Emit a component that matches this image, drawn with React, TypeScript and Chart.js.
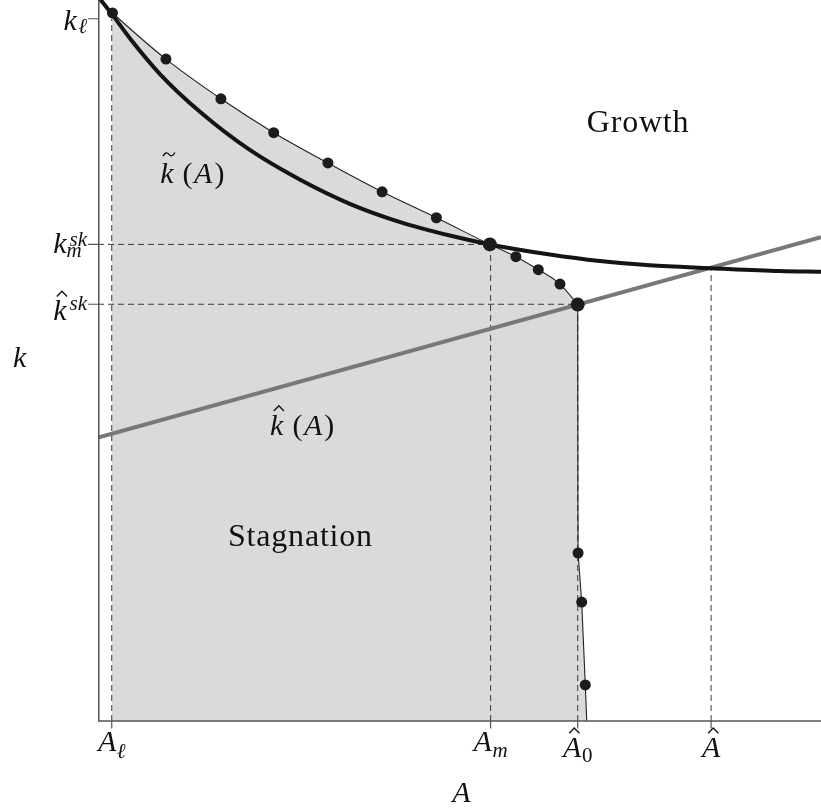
import React, { useEffect, useRef } from 'react';
import { Chart, registerables } from 'chart.js';

Chart.register(...registerables);

// ---- data (A on the horizontal axis, k on the vertical axis) ----
// tick positions: A_ℓ, A_m, Â_0, Â
const A_TICKS = [0.19, 5.43, 6.635, 8.48];
// tick positions: k_ℓ, k_m^sk, k̂^sk
const K_TICKS = [9.74, 6.61, 5.78];

// k̃(A) curve (thick black)
const kTildeA = [0.03, 0.21, 0.44, 0.86, 1.41, 2.1, 2.79, 3.49, 4.18, 4.88, 5.42, 6.25, 6.94, 7.63, 8.48, 9.43, 10.0];
const kTildeK = [10.01, 9.78, 9.47, 8.97, 8.45, 7.92, 7.51, 7.17, 6.92, 6.73, 6.61, 6.47, 6.38, 6.32, 6.28, 6.24, 6.23];

// k̂(A) line (thick gray)
const kHatA = [0, 10];
const kHatK = [3.93, 6.71];

// frontier of the stagnation region: marked points
const dotA = [0.2, 0.94, 1.7, 2.43, 3.18, 3.93, 4.68, 5.42, 5.78, 6.09, 6.39, 6.635, 6.64, 6.69, 6.74];
const dotK = [9.82, 9.18, 8.63, 8.16, 7.74, 7.34, 6.98, 6.61, 6.44, 6.26, 6.06, 5.775, 2.33, 1.65, 0.5];
// frontier end points (unmarked)
const frontierStartA = 0.0;
const frontierStartK = 10.01;
const frontierEndA = 6.76;
const frontierEndK = 0.0;
const CORNER = 11; // index of the kink (Â_0, k̂^sk)

// ---- labels ----
type Piece = { t: string; it?: boolean; sc?: number; dy?: number; acc?: 'hat' | 'tilde'; stack?: boolean; gap?: number };

const xTickLabels: Piece[][] = [
  [{ t: 'A', it: true }, { t: 'ℓ', it: true, sc: 0.7, dy: 0.22, gap: 0.02 }],
  [{ t: 'A', it: true }, { t: 'm', it: true, sc: 0.7, dy: 0.2, gap: 0.02 }],
  [{ t: 'A', it: true, acc: 'hat' }, { t: '0', sc: 0.7, dy: 0.18, gap: 0.02 }],
  [{ t: 'A', it: true, acc: 'hat' }],
];
const yTickLabels: Piece[][] = [
  [{ t: 'k', it: true }, { t: 'ℓ', it: true, sc: 0.7, dy: 0.1, gap: 0.05 }],
  [{ t: 'k', it: true }, { t: 'sk', it: true, sc: 0.7, dy: -0.26, gap: 0.1 }, { t: 'm', it: true, sc: 0.7, dy: 0.12, stack: true }],
  [{ t: 'k', it: true, acc: 'hat' }, { t: 'sk', it: true, sc: 0.7, dy: -0.34, gap: 0.1 }],
];
const curveLabels: { pieces: Piece[]; A: number; K: number }[] = [
  { pieces: [{ t: 'k', it: true, acc: 'tilde' }, { t: '(', gap: 0.3 }, { t: 'A', it: true, gap: 0.05 }, { t: ')', gap: 0.07 }], A: 0.86, K: 7.46 },
  { pieces: [{ t: 'k', it: true, acc: 'hat' }, { t: '(', gap: 0.3 }, { t: 'A', it: true, gap: 0.05 }, { t: ')', gap: 0.07 }], A: 2.38, K: 3.97 },
];
const regionLabels = [
  { text: 'Growth', A: 7.47, K: 8.17 },
  { text: 'Stagnation', A: 2.8, K: 2.43 },
];

const SERIF = '"Liberation Serif", "DejaVu Serif", serif';
const MATH = 30;

function layoutMath(ctx: CanvasRenderingContext2D, pieces: Piece[], size: number) {
  let x = 0;
  let prevStart = 0;
  const items: any[] = [];
  for (const p of pieces) {
    const fs = size * (p.sc ?? 1);
    ctx.font = `${p.it ? 'italic ' : ''}${fs}px ${SERIF}`;
    const w = ctx.measureText(p.t).width;
    let start: number;
    if (p.stack) {
      start = prevStart;
      x = Math.max(x, start + w);
    } else {
      prevStart = x;
      start = x + (p.gap ?? 0) * size;
      x = start + w;
    }
    items.push({ ...p, fs, x: start, w });
  }
  return { items, width: x };
}

function drawMath(ctx: CanvasRenderingContext2D, pieces: Piece[], size: number, x: number, baseline: number, align: 'left' | 'center' | 'right') {
  const { items, width } = layoutMath(ctx, pieces, size);
  const ox = align === 'left' ? x : align === 'center' ? x - width / 2 : x - width;
  ctx.fillStyle = '#111';
  ctx.strokeStyle = '#111';
  ctx.textAlign = 'left';
  ctx.textBaseline = 'alphabetic';
  for (const it of items) {
    ctx.font = `${it.it ? 'italic ' : ''}${it.fs}px ${SERIF}`;
    const by = baseline + (it.dy ?? 0) * size;
    ctx.fillText(it.t, ox + it.x, by);
    if (it.acc) {
      const fs = it.fs;
      const cx = ox + it.x + it.w / 2 + (it.it ? 0.07 * fs : 0);
      ctx.lineWidth = 0.045 * fs;
      ctx.beginPath();
      if (it.acc === 'hat') {
        const cy = by - 0.88 * fs;
        const hw = 0.17 * fs;
        const hh = 0.085 * fs;
        ctx.moveTo(cx - hw, cy + hh);
        ctx.lineTo(cx, cy - hh);
        ctx.lineTo(cx + hw, cy + hh);
      } else {
        const cy = by - 0.96 * fs;
        const hw = 0.2 * fs;
        const a = 0.06 * fs;
        ctx.moveTo(cx - hw, cy + a);
        ctx.quadraticCurveTo(cx - hw / 2, cy - 2 * a, cx, cy);
        ctx.quadraticCurveTo(cx + hw / 2, cy + 2 * a, cx + hw, cy - a);
      }
      ctx.stroke();
    }
  }
}

const decorPlugin = {
  id: 'decor',
  afterDatasetsDraw(chart: any) {
    const { ctx, chartArea, scales } = chart;
    const { left, right, top, bottom } = chartArea;
    const xs = scales.x;
    const ys = scales.y;
    ctx.save();
    // axes
    ctx.strokeStyle = '#555';
    ctx.lineWidth = 1.5;
    ctx.setLineDash([]);
    ctx.beginPath();
    ctx.moveTo(left + 0.75, top);
    ctx.lineTo(left + 0.75, bottom);
    ctx.lineTo(right, bottom);
    ctx.stroke();
    // ticks
    ctx.lineWidth = 1.2;
    ctx.beginPath();
    for (const v of A_TICKS) {
      const px = xs.getPixelForValue(v);
      ctx.moveTo(px, bottom);
      ctx.lineTo(px, bottom + 7.5);
    }
    for (const v of K_TICKS) {
      const py = ys.getPixelForValue(v);
      ctx.moveTo(left - 10, py);
      ctx.lineTo(left + 0.75, py);
    }
    ctx.stroke();
    // tick labels
    A_TICKS.forEach((v, i) => {
      const pieces = xTickLabels[i];
      const hasHat = pieces.some((p) => p.acc);
      drawMath(ctx, pieces, MATH, xs.getPixelForValue(v), bottom + (hasHat ? 36 : 30), 'center');
    });
    K_TICKS.forEach((v, i) => {
      const pieces = yTickLabels[i];
      const hasHat = pieces.some((p) => p.acc);
      const hasStack = pieces.some((p) => p.stack);
      drawMath(ctx, pieces, MATH, left - 11, ys.getPixelForValue(v) + (hasHat ? 16 : hasStack ? 9 : 11.5), 'right');
    });
    // axis titles
    drawMath(ctx, [{ t: 'k', it: true }], MATH, left - 85, (top + bottom) / 2 + 6.5, 'left');
    drawMath(ctx, [{ t: 'A', it: true }], MATH, (left + right) / 2 + 2, bottom + 81, 'center');
    // curve labels
    for (const c of curveLabels) {
      drawMath(ctx, c.pieces, MATH, xs.getPixelForValue(c.A), ys.getPixelForValue(c.K), 'left');
    }
    // region labels
    ctx.font = `32px ${SERIF}`;
    (ctx as any).letterSpacing = '0.8px';
    ctx.fillStyle = '#111';
    ctx.textAlign = 'center';
    ctx.textBaseline = 'alphabetic';
    for (const r of regionLabels) {
      ctx.fillText(r.text, xs.getPixelForValue(r.A), ys.getPixelForValue(r.K));
    }
    (ctx as any).letterSpacing = '0px';
    ctx.restore();
  },
};

const pts = (a: number[], k: number[]) => a.map((x, i) => ({ x, y: k[i] }));

export default function App() {
  const ref = useRef<HTMLCanvasElement | null>(null);
  useEffect(() => {
    document.body.style.margin = '0';
    const canvas = ref.current!;
    const dots = pts(dotA, dotK);
    const upper = [{ x: frontierStartA, y: frontierStartK }, ...dots.slice(0, CORNER + 1)];
    const lower = [...dots.slice(CORNER), { x: frontierEndA, y: frontierEndK }];
    const fillPts = [{ x: A_TICKS[0], y: dotK[0] }, ...dots.slice(1), { x: frontierEndA, y: frontierEndK }];
    const kAtAhat = kHatK[0] + ((kHatK[1] - kHatK[0]) * (A_TICKS[3] - kHatA[0])) / (kHatA[1] - kHatA[0]);
    const dash = (data: { x: number; y: number }[]) => ({
      data,
      borderColor: '#3a3a3a',
      borderWidth: 1,
      borderDash: [6, 4],
      pointRadius: 0,
      fill: false,
      order: 4,
    });
    const bigIdx = [7, CORNER];
    const chart = new Chart(canvas, {
      type: 'line',
      data: {
        datasets: [
          {
            data: fillPts,
            borderColor: 'rgba(0,0,0,0)',
            borderWidth: 0,
            backgroundColor: 'rgb(217,218,220)',
            fill: 'origin',
            pointRadius: 0,
            tension: 0,
            order: 5,
          } as any,
          dash([{ x: A_TICKS[0], y: 0 }, { x: A_TICKS[0], y: K_TICKS[0] }]),
          dash([{ x: 0, y: K_TICKS[1] }, { x: A_TICKS[1], y: K_TICKS[1] }]),
          dash([{ x: A_TICKS[1], y: 0 }, { x: A_TICKS[1], y: K_TICKS[1] }]),
          dash([{ x: 0, y: K_TICKS[2] }, { x: A_TICKS[2], y: K_TICKS[2] }]),
          dash([{ x: A_TICKS[2], y: 0 }, { x: A_TICKS[2], y: K_TICKS[2] }]),
          dash([{ x: A_TICKS[3], y: 0 }, { x: A_TICKS[3], y: kAtAhat }]),
          {
            data: upper,
            borderColor: '#222',
            borderWidth: 1.1,
            pointRadius: 0,
            fill: false,
            tension: 0.4,
            cubicInterpolationMode: 'monotone',
            order: 3,
          } as any,
          {
            data: lower,
            borderColor: '#222',
            borderWidth: 1.1,
            pointRadius: 0,
            fill: false,
            tension: 0,
            order: 3,
          },
          {
            data: pts(kHatA, kHatK),
            borderColor: '#787878',
            borderWidth: 4,
            pointRadius: 0,
            fill: false,
            tension: 0,
            order: 2,
          },
          {
            data: pts(kTildeA, kTildeK),
            borderColor: '#141414',
            borderWidth: 4,
            pointRadius: 0,
            fill: false,
            tension: 0.4,
            cubicInterpolationMode: 'monotone',
            order: 1,
          } as any,
          {
            data: dots,
            showLine: false,
            pointRadius: (c: any) => (bigIdx.includes(c.dataIndex) ? 7 : 5.5),
            pointBackgroundColor: '#1c1c1c',
            pointBorderWidth: 0,
            pointBorderColor: '#1c1c1c',
            fill: false,
            order: 0,
          } as any,
        ],
      },
      options: {
        animation: false,
        responsive: false,
        maintainAspectRatio: false,
        devicePixelRatio: 1,
        events: [],
        layout: { autoPadding: false, padding: { left: 98, right: 0, top: 0, bottom: 91 } },
        scales: {
          x: { type: 'linear', min: 0, max: 10, display: false },
          y: { type: 'linear', min: 0, max: 10, display: false },
        },
        plugins: { legend: { display: false }, tooltip: { enabled: false } },
      },
      plugins: [decorPlugin],
    });
    return () => chart.destroy();
  }, []);
  return <canvas ref={ref} width={821} height={812} style={{ display: 'block' }} />;
}
